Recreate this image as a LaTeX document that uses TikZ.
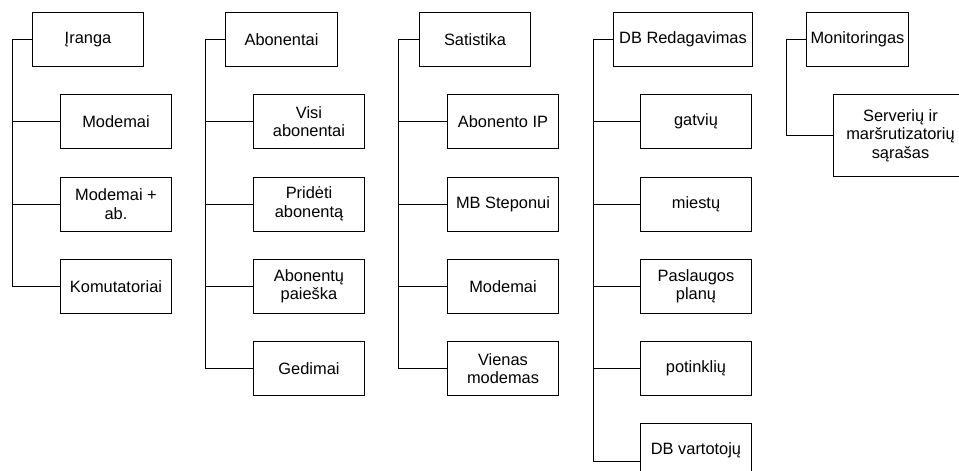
\documentclass[tikz,border=0pt]{standalone}
\usepackage{fontspec}
\setmainfont{Liberation Sans}
\begin{document}
\begin{tikzpicture}[x=1pt,y=-1pt,
  box/.style={draw=black, line width=1pt, inner sep=0pt, align=center,
    minimum width=111pt, minimum height=54pt, anchor=north west,
    font=\fontsize{16.4pt}{18.5pt}\selectfont},
  link/.style={draw=black, line width=1pt}]
\useasboundingbox (0,0) rectangle (959,471);
\clip (0,0) rectangle (959,471);

% Column 1: equipment
\node[box] (r1) at (32,12) {Įranga};
\node[box] (a1) at (60,94) {Modemai};
\node[box] (b1) at (60,176.5) {Modemai +\\ab.};
\node[box] (c1) at (60,258.8) {Komutatoriai};
\coordinate (t1) at (12,0);
\draw[link] (r1.west) -| (t1 |- c1.west) -- (c1.west);
\draw[link] (t1 |- a1.west) -- (a1.west);
\draw[link] (t1 |- b1.west) -- (b1.west);

% Column 2: subscribers
\node[box, minimum width=112pt] (r2) at (225,12) {Abonentai};
\node[box] (a2) at (253,94) {Visi\\abonentai};
\node[box] (b2) at (253,176.5) {Pridėti\\abonentą};
\node[box] (c2) at (253,258.8) {Abonentų\\paieška};
\node[box] (d2) at (253,341) {Gedimai};
\coordinate (t2) at (205,0);
\draw[link] (r2.west) -| (t2 |- d2.west) -- (d2.west);
\draw[link] (t2 |- a2.west) -- (a2.west);
\draw[link] (t2 |- b2.west) -- (b2.west);
\draw[link] (t2 |- c2.west) -- (c2.west);

% Column 3: statistics
\node[box] (r3) at (419,12) {Satistika};
\node[box] (a3) at (447,94) {Abonento IP};
\node[box] (b3) at (447,176.5) {MB Steponui};
\node[box] (c3) at (447,258.8) {Modemai};
\node[box] (d3) at (447,341) {Vienas\\modemas};
\coordinate (t3) at (398,0);
\draw[link] (r3.west) -| (t3 |- d3.west) -- (d3.west);
\draw[link] (t3 |- a3.west) -- (a3.west);
\draw[link] (t3 |- b3.west) -- (b3.west);
\draw[link] (t3 |- c3.west) -- (c3.west);

% Column 4: database editing
\node[box, minimum width=139pt] (r4) at (613,12) {DB Redagavimas};
\node[box] (a4) at (640,94) {gatvių};
\node[box] (b4) at (640,176.5) {miestų};
\node[box] (c4) at (640,258.8) {Paslaugos\\planų};
\node[box] (d4) at (640,341) {potinklių};
\node[box, minimum height=76pt] (e4) at (640,423) {};
\node[anchor=center, inner sep=0pt, font=\fontsize{16.4pt}{18.5pt}\selectfont]
  (e4t) at ([yshift=11pt]e4.center) {DB vartotojų};
\coordinate (t4) at (593,0);
\draw[link] (r4.west) -| (t4 |- e4.west) -- (e4.west);
\draw[link] (t4 |- a4.west) -- (a4.west);
\draw[link] (t4 |- b4.west) -- (b4.west);
\draw[link] (t4 |- c4.west) -- (c4.west);
\draw[link] (t4 |- d4.west) -- (d4.west);

% Column 5: monitoring
\node[box, minimum width=102pt] (r5) at (806,12) {Monitoringas};
\node[box, minimum width=134pt, minimum height=82pt] (a5) at (833,94) {Serverių ir\\maršrutizatorių\\sąrašas};
\coordinate (t5) at (786,0);
\draw[link] (r5.west) -| (t5 |- a5.west) -- (a5.west);
\end{tikzpicture}
\end{document}
